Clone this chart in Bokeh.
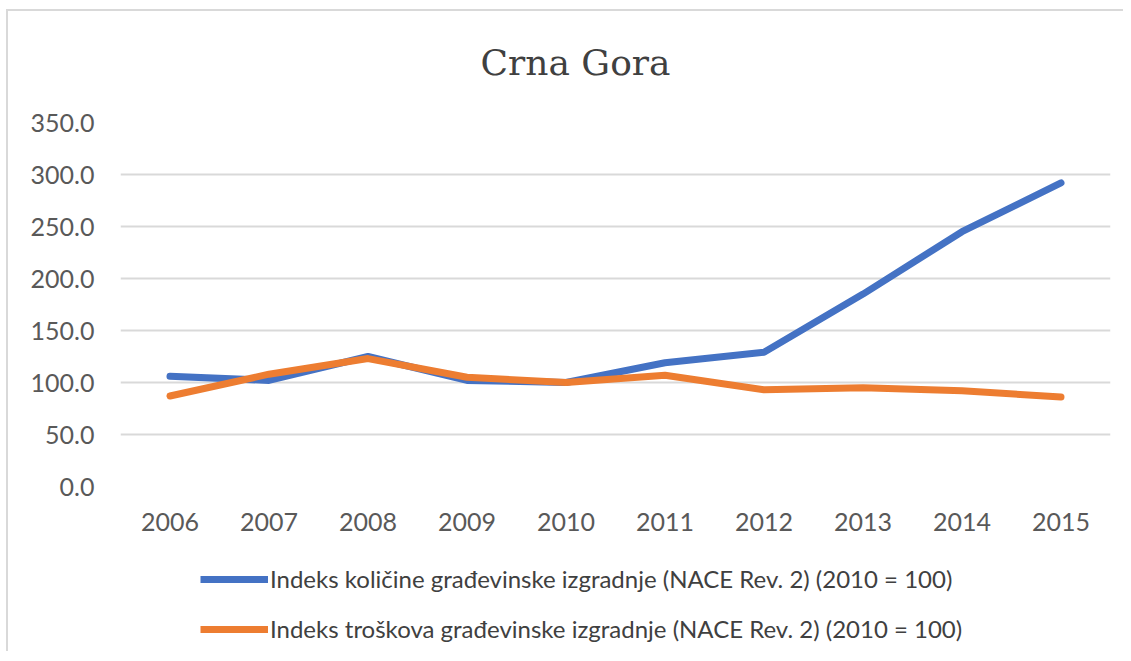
from bokeh.plotting import figure
from bokeh.layouts import column
from bokeh.models import FactorRange, Range1d, NumeralTickFormatter, FixedTicker, Legend, LegendItem, Label
from bokeh.embed import file_html
from bokeh.resources import INLINE

years = ["2006", "2007", "2008", "2009", "2010", "2011", "2012", "2013", "2014", "2015"]
kolicina = [106.0, 102.0, 125.0, 102.0, 100.0, 119.0, 129.0, 185.0, 245.0, 292.0]
troskovi = [87.0, 108.0, 123.0, 105.0, 100.0, 107.0, 93.0, 95.0, 92.0, 86.0]
y_ticks = [0, 50, 100, 150, 200, 250, 300, 350]
title_text = "Crna Gora"
label_k = "Indeks količine građevinske izgradnje (NACE Rev. 2) (2010 = 100)"
label_t = "Indeks troškova građevinske izgradnje (NACE Rev. 2) (2010 = 100)"
blue = "#4472C4"
orange = "#ED7D31"

W = 1115

# title strip
t = figure(width=W, height=91, output_backend="svg", toolbar_location=None,
           x_axis_type=None, y_axis_type=None, x_range=Range1d(0, 1), y_range=Range1d(0, 1),
           min_border_left=112, min_border_right=13, min_border_top=0, min_border_bottom=0)
t.outline_line_color = None
t.grid.visible = False
t.add_layout(Label(x=455, y=40, x_units="screen", y_units="screen", text=title_text,
                   text_align="center", text_baseline="middle",
                   text_font="DejaVu Serif", text_font_size="36px", text_color="#404040"))

# main chart
p = figure(width=W, height=454, output_backend="svg", toolbar_location=None,
           x_range=FactorRange(factors=years, range_padding=0),
           y_range=Range1d(0, 350),
           min_border_left=112, min_border_right=13, min_border_top=20, min_border_bottom=70)
p.title = None
p.outline_line_color = None
p.background_fill_color = "white"
p.border_fill_color = "white"

p.xgrid.grid_line_color = None
p.ygrid.grid_line_color = "#d9d9d9"
p.ygrid.grid_line_width = 2
p.yaxis.ticker = FixedTicker(ticks=y_ticks)
p.yaxis.formatter = NumeralTickFormatter(format="0.0")

for ax in (p.xaxis[0], p.yaxis[0]):
    ax.axis_line_color = None
    ax.major_tick_line_color = None
    ax.minor_tick_line_color = None
    ax.major_label_text_font = "Lato"
    ax.major_label_text_font_size = "25px"
    ax.major_label_text_color = "#595959"
p.yaxis.major_label_standoff = 20
p.xaxis.major_label_standoff = 20

p.line(years, kolicina, line_color=blue, line_width=7, line_cap="round", line_join="round")
p.line(years, troskovi, line_color=orange, line_width=7, line_cap="round", line_join="round")

# legend strip (dummy renderers carry only the legend styles)
nan = float("nan")
q = figure(width=W, height=95, output_backend="svg", toolbar_location=None,
           x_axis_type=None, y_axis_type=None, x_range=Range1d(0, 1), y_range=Range1d(0, 1),
           min_border_left=112, min_border_right=13, min_border_top=0, min_border_bottom=0)
q.outline_line_color = None
q.grid.visible = False
l1 = q.line(x=[nan], y=[nan], line_color=blue, line_width=7)
l2 = q.line(x=[nan], y=[nan], line_color=orange, line_width=7)
legend = Legend(items=[LegendItem(label=label_k, renderers=[l1]),
                       LegendItem(label=label_t, renderers=[l2])],
                orientation="vertical", location=(80, 8),
                glyph_width=68, glyph_height=24, label_height=24, label_standoff=2, spacing=21,
                label_text_font="Lato", label_text_font_size="24px", label_text_color="#404040",
                border_line_color=None, background_fill_alpha=0, padding=0, margin=0)
q.add_layout(legend, "center")

layout = column(t, p, q, spacing=0,
                styles={"margin-left": "6px", "margin-top": "9px",
                        "border-left": "2px solid #d9d9d9", "border-top": "2px solid #d9d9d9"})
open("out.html", "w").write(file_html(layout, INLINE))
